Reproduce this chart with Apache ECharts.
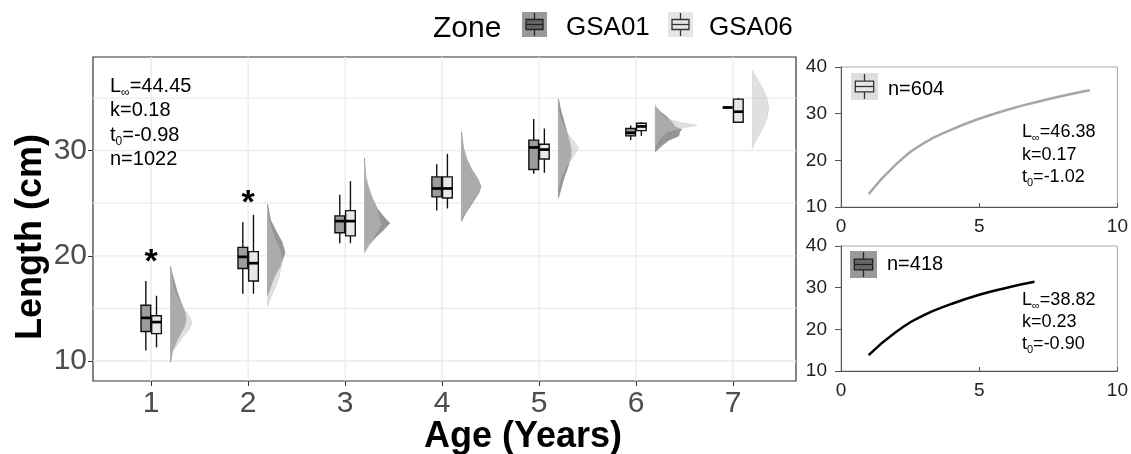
<!DOCTYPE html>
<html>
<head>
<meta charset="utf-8">
<script src="https://cdn.jsdelivr.net/npm/echarts@6/dist/echarts.min.js"></script>
<style>
  html, body { margin: 0; padding: 0; background: #fff; }
  #chart { width: 1131px; height: 454px; }
</style>
</head>
<body>
<div id="chart"></div>
<script>
// ages on the x axis
const ages = [1, 2, 3, 4, 5, 6, 7];

// box stats per age: [lower whisker, q1, median, q3, upper whisker]
const gsa01Box = [
  [11.0, 12.8, 14.1, 15.3, 17.6],
  [16.4, 18.8, 19.9, 20.8, 23.2],
  [21.2, 22.2, 23.3, 23.8, 25.8],
  [24.3, 25.6, 26.4, 27.5, 28.7],
  [27.8, 28.2, 30.3, 31.0, 33.0],
  [31.0, 31.4, 31.7, 32.1, 32.4],
  [34.1, 34.1, 34.1, 34.1, 34.1]
];
const gsa06Box = [
  [11.3, 12.6, 13.7, 14.3, 16.2],
  [16.4, 17.6, 19.3, 20.4, 23.9],
  [21.2, 21.9, 23.3, 24.3, 27.1],
  [24.5, 25.5, 26.4, 27.5, 29.7],
  [27.9, 29.2, 30.1, 30.6, 32.1],
  [31.4, 31.9, 32.3, 32.6, 32.7],
  [32.7, 32.7, 33.7, 34.9, 35.0]
];

// half violin profiles per age: [length, half width in age units]
const gsa01Violin = [
  [[9.9, 0], [11, 0.02], [12.2, 0.08], [13.2, 0.14], [13.9, 0.16], [14.6, 0.15], [15.5, 0.11], [16.5, 0.07], [17.5, 0.04], [18.5, 0.01], [19.0, 0]],
  [[16.2, 0], [17, 0.03], [18, 0.07], [19, 0.13], [20.3, 0.18], [21.3, 0.15], [22.3, 0.09], [23.4, 0.03], [24.9, 0]],
  [[20.4, 0], [21, 0.04], [21.8, 0.12], [22.5, 0.2], [23.1, 0.26], [23.7, 0.2], [24.5, 0.13], [25.5, 0.08], [26.5, 0.04], [27.5, 0.01], [29.3, 0]],
  [[23.3, 0], [24, 0.04], [25, 0.11], [26, 0.18], [26.6, 0.2], [27.3, 0.17], [28.3, 0.1], [29.3, 0.05], [30.3, 0.02], [31.8, 0]],
  [[25.5, 0], [26.5, 0.03], [27.5, 0.06], [28.5, 0.1], [29.5, 0.13], [30.2, 0.13], [31, 0.11], [32, 0.08], [33, 0.05], [34, 0.02], [34.9, 0]],
  [[29.9, 0], [30.5, 0.07], [31.0, 0.14], [31.4, 0.24], [31.8, 0.25], [32.0, 0.27], [32.3, 0.2], [32.7, 0.17], [33.2, 0.12], [33.7, 0.05], [34.2, 0]],
  null
];
const gsa06Violin = [
  [[10.2, 0], [11, 0.03], [12.2, 0.12], [13.0, 0.19], [13.6, 0.22], [14.2, 0.2], [15, 0.13], [16, 0.07], [17, 0.03], [18, 0.01], [18.8, 0]],
  [[15.2, 0], [16, 0.03], [17, 0.08], [18, 0.12], [19.3, 0.15], [20.5, 0.13], [21.5, 0.08], [22.5, 0.04], [23.5, 0.01], [24.5, 0]],
  [[20.2, 0], [21, 0.05], [22, 0.11], [23, 0.17], [24, 0.14], [25, 0.1], [26, 0.06], [27, 0.03], [28, 0.01], [29, 0]],
  [[23.5, 0], [24, 0.03], [25, 0.1], [26, 0.17], [26.6, 0.19], [27.3, 0.17], [28.3, 0.1], [29.3, 0.05], [30.3, 0.02], [31.5, 0]],
  [[26.5, 0], [27.5, 0.03], [28.5, 0.08], [29.5, 0.16], [30.2, 0.21], [30.9, 0.16], [31.8, 0.08], [32.8, 0.03], [33.8, 0]],
  [[30.5, 0], [31.2, 0.05], [31.8, 0.12], [32.2, 0.3], [32.4, 0.43], [32.6, 0.3], [33, 0.12], [33.6, 0.04], [34.4, 0]],
  [[30.2, 0], [31, 0.04], [32, 0.1], [33, 0.15], [34.1, 0.17], [35, 0.15], [36, 0.1], [37, 0.04], [37.6, 0]]
];

// significance stars
const sigAges = [1, 2];
const sigLength = [20.2, 25.8];

// main panel ticks / grid
const mainYTicks = [10, 20, 30];
const mainYGrid = [10, 15, 20, 25, 30, 35];

// growth curves
const curveAge06 = [1, 2, 3, 4, 5, 6, 7, 8, 9];
const curveLen06 = [12.8, 19.2, 23.7, 26.6, 28.9, 30.8, 32.4, 33.8, 35.0];
const curveAge01 = [1, 2, 3, 4, 5, 6, 7];
const curveLen01 = [13.8, 19.4, 23.4, 26.1, 28.3, 30.0, 31.4];

// growth parameters: Linf, k, t0, n
const allParams = ['44.45', '0.18', '-0.98', '1022'];
const gsa06Params = ['46.38', '0.17', '-1.02', '604'];
const gsa01Params = ['38.82', '0.23', '-0.90', '418'];

const FONT = 'Liberation Sans, Arial, sans-serif';
const boxShift = 0.055;
const boxHalf = 0.05;
const violinShift = 0.2;
const xMin = 0.4, xMax = 7.65;
const yMin = 8.1, yMax = 38.9;

const chart = echarts.init(document.getElementById('chart'));

function gridLine(horizontal) {
  return function (params, api) {
    const v = api.value(0);
    const a = horizontal ? api.coord([xMin, v]) : api.coord([v, yMin]);
    const b = horizontal ? api.coord([xMax, v]) : api.coord([v, yMax]);
    return {
      type: 'line',
      shape: { x1: a[0], y1: a[1], x2: b[0], y2: b[1] },
      style: { stroke: '#ebebeb', lineWidth: 1.3 },
      silent: true
    };
  };
}

function violinRender(profiles, color, opacity) {
  return function (params, api) {
    const prof = profiles[params.dataIndex];
    if (!prof) return null;
    const base = ages[params.dataIndex] + violinShift;
    const pts = prof.map(p => api.coord([base + p[1], p[0]]));
    return {
      type: 'polygon',
      shape: { points: pts },
      style: { fill: color, stroke: color, lineWidth: 0.8, opacity: opacity }
    };
  };
}

function boxRender(stats, shift, fill) {
  return function (params, api) {
    const i = params.dataIndex;
    const s = stats[i];
    const x = ages[i] + shift;
    const lo = api.coord([x, s[0]]);
    const hi = api.coord([x, s[4]]);
    const q1 = api.coord([x - boxHalf, s[1]]);
    const q3 = api.coord([x + boxHalf, s[3]]);
    const mL = api.coord([x - boxHalf, s[2]]);
    const mR = api.coord([x + boxHalf, s[2]]);
    return {
      type: 'group',
      children: [
        { type: 'line', shape: { x1: lo[0], y1: lo[1], x2: hi[0], y2: hi[1] }, style: { stroke: '#111', lineWidth: 1.4 } },
        { type: 'rect', shape: { x: q1[0], y: q3[1], width: q3[0] - q1[0], height: q1[1] - q3[1] }, style: { fill: fill, stroke: '#111', lineWidth: 1.4 } },
        { type: 'line', shape: { x1: mL[0], y1: mL[1], x2: mR[0], y2: mR[1] }, style: { stroke: '#000', lineWidth: 2.7 } }
      ]
    };
  };
}

// legend key: grey square with a small boxplot glyph
function keyIcon(x, y, size, bg, fill, stroke) {
  return {
    type: 'group', x: x, y: y,
    children: [
      { type: 'rect', shape: { x: 0, y: 0, width: size, height: size }, style: { fill: bg } },
      { type: 'line', shape: { x1: size / 2, y1: size * 0.04, x2: size / 2, y2: size * 0.96 }, style: { stroke: stroke, lineWidth: 1.3 } },
      { type: 'rect', shape: { x: size * 0.16, y: size * 0.3, width: size * 0.68, height: size * 0.4 }, style: { fill: fill, stroke: stroke, lineWidth: 1.3 } },
      { type: 'line', shape: { x1: size * 0.16, y1: size * 0.5, x2: size * 0.84, y2: size * 0.5 }, style: { stroke: stroke, lineWidth: 1.3 } }
    ]
  };
}

function paramText(x, y, p, size, lh, withN) {
  let t = '{a|L}{s|∞}{a|=' + p[0] + '}\n{a|k=' + p[1] + '}\n{a|t}{s|0}{a|=' + p[2] + '}';
  if (withN) t += '\n{a|n=' + p[3] + '}';
  return {
    type: 'text', left: x, top: y, z: 10,
    style: {
      text: t,
      rich: {
        a: { fontSize: size, fontFamily: FONT, lineHeight: lh, fill: '#000' },
        s: { fontSize: Math.round(size * 0.6), fontFamily: FONT, lineHeight: 12, verticalAlign: 'bottom', fill: '#000' }
      }
    }
  };
}

const smallX = (gi) => ({
  type: 'value', gridIndex: gi, min: 0, max: 10, interval: 5,
  axisLine: { show: true, lineStyle: { color: '#555', width: 1 } },
  axisTick: { show: true, inside: true, length: 4, lineStyle: { color: '#555' } },
  axisLabel: { fontSize: 19, color: '#222', fontFamily: FONT, margin: 10 },
  splitLine: { show: false }
});
const smallY = (gi) => ({
  type: 'value', gridIndex: gi, min: 10, max: 40, interval: 10,
  axisLine: { show: true, lineStyle: { color: '#555', width: 1 } },
  axisTick: { show: true, length: 6, lineStyle: { color: '#555' } },
  axisLabel: { fontSize: 19, color: '#222', fontFamily: FONT, margin: 14 },
  splitLine: { show: false }
});

const option = {
  animation: false,
  backgroundColor: '#fff',
  grid: [
    { left: 93, top: 57, width: 703, height: 324, show: true, borderColor: '#333', borderWidth: 1.2, backgroundColor: '#fff' },
    { left: 841, top: 67, width: 280, height: 140, show: true, borderColor: '#aaa', borderWidth: 1 },
    { left: 841, top: 246, width: 280, height: 125, show: true, borderColor: '#aaa', borderWidth: 1 }
  ],
  xAxis: [
    {
      type: 'value', gridIndex: 0, min: xMin, max: xMax,
      axisLine: { show: false },
      axisTick: { show: true, customValues: ages, length: 5, lineStyle: { color: '#333' } },
      axisLabel: { customValues: ages, fontSize: 30, color: '#4d4d4d', fontFamily: FONT, margin: 8 },
      splitLine: { show: false }
    },
    smallX(1),
    smallX(2)
  ],
  yAxis: [
    {
      type: 'value', gridIndex: 0, min: yMin, max: yMax,
      axisLine: { show: false },
      axisTick: { show: true, customValues: mainYTicks, length: 5, lineStyle: { color: '#333' } },
      axisLabel: { customValues: mainYTicks, fontSize: 30, color: '#4d4d4d', fontFamily: FONT, margin: 6 },
      splitLine: { show: false }
    },
    smallY(1),
    smallY(2)
  ],
  graphic: [
    { type: 'text', left: 433, top: 14, style: { text: 'Zone', fontSize: 30, fontFamily: FONT, fill: '#000' } },
    keyIcon(522, 12, 25, '#999', '#666', '#222'),
    { type: 'text', left: 566, top: 15, style: { text: 'GSA01', fontSize: 26, fontFamily: FONT, fill: '#000' } },
    keyIcon(668, 12, 25, '#e6e6e6', '#e6e6e6', '#333'),
    { type: 'text', left: 709, top: 15, style: { text: 'GSA06', fontSize: 26, fontFamily: FONT, fill: '#000' } },
    // axis titles
    {
      type: 'text', x: 31, y: 237, rotation: Math.PI / 2,
      style: { text: 'Length (cm)', fontSize: 36, fontWeight: 'bold', fontFamily: FONT, fill: '#000', align: 'center', verticalAlign: 'middle' }
    },
    {
      type: 'text', x: 523, y: 437,
      style: { text: 'Age (Years)', fontSize: 36, fontWeight: 'bold', fontFamily: FONT, fill: '#000', align: 'center', verticalAlign: 'middle' }
    },
    paramText(110, 76, allParams, 20, 24.5, true),
    keyIcon(851, 73, 27, '#dedede', '#e6e6e6', '#333'),
    { type: 'text', left: 888, top: 79, style: { text: 'n=' + gsa06Params[3], fontSize: 20, fontFamily: FONT, fill: '#000' } },
    paramText(1022, 123.5, gsa06Params, 18, 22.5, false),
    keyIcon(850, 251, 27, '#999', '#666', '#222'),
    { type: 'text', left: 887, top: 254, style: { text: 'n=' + gsa01Params[3], fontSize: 20, fontFamily: FONT, fill: '#000' } },
    paramText(1022, 291.5, gsa01Params, 18, 22, false)
  ],
  series: [
    {
      type: 'custom', xAxisIndex: 0, yAxisIndex: 0, silent: true, z: 1,
      data: mainYGrid.map(v => [v]), renderItem: gridLine(true)
    },
    {
      type: 'custom', xAxisIndex: 0, yAxisIndex: 0, silent: true, z: 1,
      data: ages.map(v => [v]), renderItem: gridLine(false)
    },
    {
      name: 'GSA01 violin', type: 'custom', xAxisIndex: 0, yAxisIndex: 0, z: 2,
      data: ages.map(a => [a]), renderItem: violinRender(gsa01Violin, '#959595', 1)
    },
    {
      name: 'GSA06 violin', type: 'custom', xAxisIndex: 0, yAxisIndex: 0, z: 3,
      data: ages.map(a => [a]), renderItem: violinRender(gsa06Violin, '#c1c1c1', 0.5)
    },
    {
      name: 'GSA01', type: 'custom', xAxisIndex: 0, yAxisIndex: 0, z: 4,
      data: ages.map((a, i) => [a].concat(gsa01Box[i])), renderItem: boxRender(gsa01Box, -boxShift, '#9c9c9c')
    },
    {
      name: 'GSA06', type: 'custom', xAxisIndex: 0, yAxisIndex: 0, z: 4,
      data: ages.map((a, i) => [a].concat(gsa06Box[i])), renderItem: boxRender(gsa06Box, boxShift, '#e8e8e8')
    },
    {
      type: 'custom', xAxisIndex: 0, yAxisIndex: 0, z: 5,
      data: sigAges.map((a, i) => [a, sigLength[i]]),
      renderItem: function (params, api) {
        const p = api.coord([api.value(0), api.value(1)]);
        return {
          type: 'text', x: p[0], y: p[1] + 9,
          style: { text: '*', fontSize: 34, fontWeight: 'bold', fontFamily: FONT, align: 'center', verticalAlign: 'middle', fill: '#000' }
        };
      }
    },
    {
      type: 'line', xAxisIndex: 1, yAxisIndex: 1, smooth: true, showSymbol: false,
      lineStyle: { color: '#a6a6a6', width: 2.5 },
      data: curveAge06.map((t, i) => [t, curveLen06[i]])
    },
    {
      type: 'line', xAxisIndex: 2, yAxisIndex: 2, smooth: true, showSymbol: false,
      lineStyle: { color: '#000', width: 2.5 },
      data: curveAge01.map((t, i) => [t, curveLen01[i]])
    }
  ]
};

chart.setOption(option);
</script>
</body>
</html>
